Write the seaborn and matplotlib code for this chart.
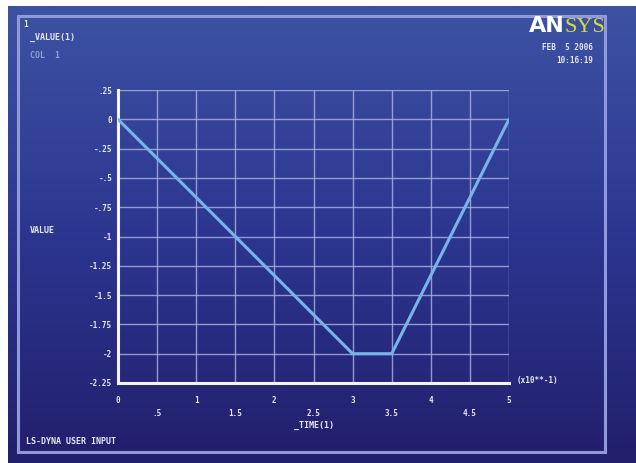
import numpy as np
import pandas as pd
import matplotlib
matplotlib.use("Agg")
import matplotlib.pyplot as plt
from matplotlib.colors import LinearSegmentedColormap
from matplotlib.patches import Rectangle
import seaborn as sns

# Data (time in units of x10**-1)
time = [0.0, 3.0, 3.5, 5.0]
value = [0.0, -2.0, -2.0, 0.0]
xticks = [0, 0.5, 1, 1.5, 2, 2.5, 3, 3.5, 4, 4.5, 5]
xtick_labels = ["0", ".5", "1", "1.5", "2", "2.5", "3", "3.5", "4", "4.5", "5"]
yticks = [0.25, 0, -0.25, -0.5, -0.75, -1, -1.25, -1.5, -1.75, -2, -2.25]
ytick_labels = [".25", "0", "-.25", "-.5", "-.75", "-1", "-1.25", "-1.5", "-1.75", "-2", "-2.25"]

sns.set_style("dark")
plt.rcParams['font.family'] = ['DejaVu Sans Mono']

W, H = 636, 463
fig = plt.figure(figsize=(W / 100, H / 100), dpi=100)
fig.patch.set_facecolor("white")

# background gradient
bg = fig.add_axes([8 / W, 0, 1 - 8 / W, 1 - 6 / H])
cmap = LinearSegmentedColormap.from_list("bg", ["#3d52a3", "#2c3690", "#221f6c"])
grad = np.linspace(0, 1, 256).reshape(-1, 1)
bg.imshow(grad, aspect="auto", cmap=cmap, extent=[0, 1, 0, 1], origin="upper")
bg.set_axis_off()
bg.add_patch(Rectangle((10 / (W - 8), 1 - 10 / (H - 6)), (605 - 18) / (W - 8),
                       -(452 - 16) / (H - 6), fill=False, edgecolor="#8f9ad6", lw=2.2,
                       transform=bg.transAxes))

txtc = "#e6e8f5"
fig.text(23 / W, 1 - 27 / H, "1", color=txtc, fontsize=5.5, fontweight="bold")
fig.text(30 / W, 1 - 40 / H, "_VALUE(1)", color=txtc, fontsize=6, fontweight="bold")
fig.text(30 / W, 1 - 58 / H, "COL  1", color="#8fa0d8", fontsize=6, fontweight="bold")
fig.text(565 / W, 1 - 32 / H, "AN", color="white", fontsize=16, fontweight="bold",
         ha="right", family="Liberation Sans Narrow")
fig.text(565 / W, 1 - 32 / H, "SYS", color="#d8d840", fontsize=16, ha="left",
         family="Liberation Serif")
fig.text(593 / W, 1 - 50 / H, "FEB  5 2006", color=txtc, fontsize=5.5, fontweight="bold", ha="right")
fig.text(593 / W, 1 - 63 / H, "10:16:19", color=txtc, fontsize=5.5, fontweight="bold", ha="right")
fig.text(26 / W, 1 - 444 / H, "LS-DYNA USER INPUT", color=txtc, fontsize=6, fontweight="bold")

ax = fig.add_axes([118 / W, 1 - 383 / H, (509 - 118) / W, (383 - 90) / H])
ax.set_facecolor("none")
df = pd.DataFrame({"time": time, "value": value})
sns.lineplot(data=df, x="time", y="value", ax=ax, color="#78b4e8", lw=2.2, zorder=5)
ax.set_xlim(0, 5)
ax.set_ylim(-2.25, 0.25)
ax.set_xticks(xticks)
ax.set_yticks(yticks)
ax.grid(True, color="#a7aee0", lw=1.0, alpha=0.85)
ax.set_axisbelow(True)
for s in ["top", "right"]:
    ax.spines[s].set_visible(False)
for s in ["left", "bottom"]:
    ax.spines[s].set_visible(True)
    ax.spines[s].set_color("#f4f4ff")
    ax.spines[s].set_linewidth(2.2)
ax.set_yticklabels(ytick_labels, color=txtc, fontsize=5.5, fontweight="bold")
ax.set_xticklabels([])
ax.tick_params(length=0, pad=4)
for i, (xt, lab) in enumerate(zip(xticks, xtick_labels)):
    yy = -0.06 if i % 2 == 0 else -0.105
    ax.text(xt, yy, lab, transform=ax.get_xaxis_transform(), ha="center", va="center",
            color=txtc, fontsize=5.5, fontweight="bold")
ax.set_xlabel("")
ax.set_ylabel("")
ax.text(0.5, -0.145, "_TIME(1)", transform=ax.transAxes, ha="center", va="center",
        color=txtc, fontsize=6, fontweight="bold")
fig.text(30 / W, 1 - 230 / H, "VALUE", color=txtc, fontsize=6, fontweight="bold", va="center")
fig.text(517 / W, 1 - 381 / H, "(x10**-1)", color=txtc, fontsize=5.5, fontweight="bold", va="center")

fig.savefig("out.png", dpi=100)
